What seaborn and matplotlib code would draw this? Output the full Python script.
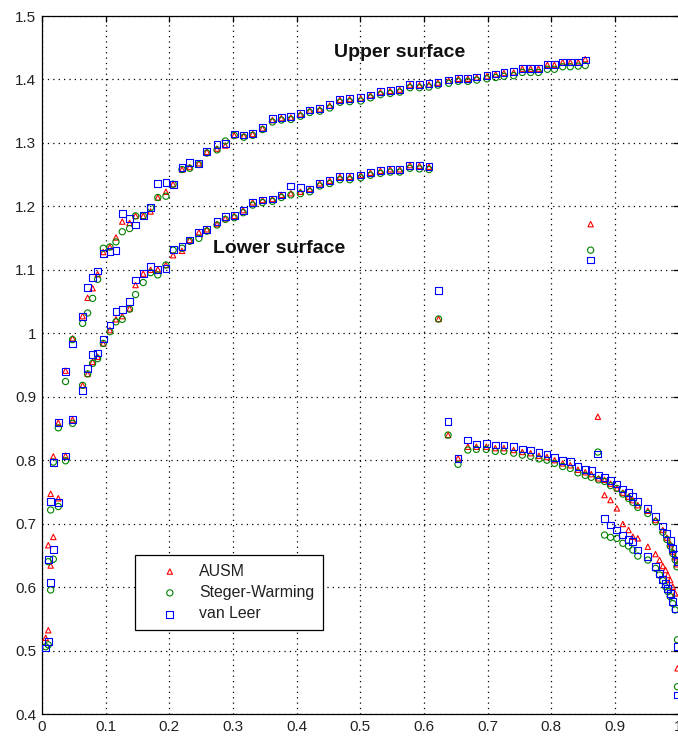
import matplotlib
matplotlib.use("Agg")
import matplotlib.pyplot as plt
import seaborn as sns
import pandas as pd
from matplotlib.ticker import FormatStrFormatter

# ---------------- data ----------------
schemes = ["AUSM", "Steger-Warming", "van Leer"]

# upper surface, ahead of the shock
x_upper = [0.0099, 0.0136, 0.0178, 0.0256, 0.037, 0.048, 0.0638, 0.0717, 0.0795, 0.0874,
           0.0963, 0.1067, 0.1162, 0.1261, 0.1376, 0.147, 0.159, 0.1706, 0.182, 0.1947,
           0.206, 0.220, 0.232, 0.2465, 0.259, 0.275, 0.288, 0.302, 0.317, 0.331,
           0.3465, 0.362, 0.376, 0.391, 0.406, 0.4207, 0.4364, 0.452, 0.468, 0.4835,
           0.5008, 0.516, 0.5317, 0.547, 0.562, 0.578, 0.593, 0.608, 0.622, 0.639,
           0.654, 0.669, 0.683, 0.699, 0.7127, 0.7257, 0.741, 0.7546, 0.7677, 0.780,
           0.794, 0.805, 0.818, 0.830, 0.8425, 0.8535]
ausm_upper = [0.666, 0.747, 0.806, 0.859, 0.941, 0.992, 1.027, 1.056, 1.071, 1.093,
              1.128, 1.136, 1.151, 1.176, 1.174, 1.185, 1.185, 1.192, 1.214, 1.223,
              1.235, 1.258, 1.262, 1.268, 1.286, 1.291, 1.296, 1.312, 1.311, 1.314,
              1.323, 1.336, 1.339, 1.340, 1.345, 1.351, 1.353, 1.359, 1.368, 1.369,
              1.370, 1.375, 1.380, 1.382, 1.384, 1.391, 1.391, 1.392, 1.395, 1.398,
              1.401, 1.401, 1.403, 1.405, 1.408, 1.410, 1.411, 1.417, 1.417, 1.417,
              1.423, 1.423, 1.427, 1.427, 1.427, 1.432]
sw_upper = [0.640, 0.7215, 0.797, 0.851, 0.924, 0.990, 1.0156, 1.032, 1.055, 1.085,
            1.134, 1.136, 1.144, 1.160, 1.165, 1.185, 1.185, 1.198, 1.214, 1.216,
            1.235, 1.258, 1.260, 1.266, 1.284, 1.289, 1.303, 1.312, 1.309, 1.312,
            1.321, 1.333, 1.336, 1.337, 1.342, 1.348, 1.350, 1.355, 1.364, 1.365,
            1.366, 1.371, 1.376, 1.378, 1.380, 1.387, 1.387, 1.388, 1.391, 1.394,
            1.397, 1.397, 1.399, 1.401, 1.403, 1.405, 1.406, 1.411, 1.411, 1.411,
            1.416, 1.416, 1.420, 1.420, 1.421, 1.422]
vl_upper = [0.644, 0.735, 0.796, 0.859, 0.9395, 0.983, 1.026, 1.072, 1.088, 1.098,
            1.126, 1.1285, 1.131, 1.189, 1.181, 1.1706, 1.185, 1.1985, 1.2363, 1.238,
            1.2346, 1.261, 1.269, 1.268, 1.287, 1.298, 1.299, 1.314, 1.3125, 1.315,
            1.3245, 1.338, 1.340, 1.341, 1.3466, 1.352, 1.3545, 1.360, 1.369, 1.370,
            1.371, 1.3755, 1.381, 1.383, 1.3845, 1.392, 1.392, 1.393, 1.3955, 1.399,
            1.402, 1.402, 1.404, 1.406, 1.4086, 1.4107, 1.412, 1.4175, 1.4175, 1.4175,
            1.424, 1.424, 1.4275, 1.4275, 1.4275, 1.4307]

# upper surface, shock and behind it
x_upper_aft = [0.862, 0.8733, 0.8838, 0.8932, 0.9032, 0.9126, 0.9215, 0.9283, 0.9361,
               0.9518, 0.9639, 0.9702, 0.9754, 0.9796, 0.9833, 0.987, 0.991, 0.9947]
ausm_upper_aft = [1.172, 0.8685, 0.745, 0.7372, 0.7241, 0.6994, 0.690, 0.6794, 0.6768,
                  0.6636, 0.652, 0.6426, 0.6332, 0.6269, 0.619, 0.611, 0.6006, 0.590]
sw_upper_aft = [1.131, 0.8128, 0.682, 0.6784, 0.6768, 0.669, 0.6647, 0.6584, 0.6489,
                0.6426, 0.6295, 0.619, 0.6101, 0.6006, 0.593, 0.585, 0.574, 0.564]
vl_upper_aft = [1.1155, 0.8097, 0.7083, 0.6978, 0.690, 0.682, 0.6752, 0.6715, 0.6584,
                0.6478, 0.632, 0.6216, 0.6122, 0.6059, 0.598, 0.590, 0.5769, 0.5665]

# lower surface, ahead of the shock
x_lower = [0.0058, 0.0099, 0.0136, 0.0178, 0.0256, 0.037, 0.048, 0.0638, 0.0717, 0.0795,
           0.0874, 0.0963, 0.1067, 0.1162, 0.1261, 0.1376, 0.147, 0.159, 0.1706, 0.182,
           0.1947, 0.206, 0.220, 0.232, 0.2465, 0.259, 0.275, 0.288, 0.302, 0.316,
           0.331, 0.3465, 0.362, 0.376, 0.391, 0.406, 0.4207, 0.4364, 0.452, 0.468,
           0.4835, 0.5008, 0.516, 0.5317, 0.547, 0.562, 0.578, 0.593, 0.608]
ausm_lower = [0.520, 0.532, 0.634, 0.679, 0.740, 0.807, 0.864, 0.918, 0.936, 0.955,
              0.963, 0.984, 1.005, 1.022, 1.027, 1.039, 1.076, 1.094, 1.100, 1.1006,
              1.1076, 1.123, 1.130, 1.147, 1.159, 1.1638, 1.172, 1.181, 1.185, 1.194,
              1.2063, 1.210, 1.2116, 1.218, 1.2206, 1.223, 1.2273, 1.2363, 1.2404, 1.2467,
              1.2467, 1.2494, 1.253, 1.256, 1.2584, 1.2584, 1.265, 1.264, 1.2625]
sw_lower = [0.506, 0.509, 0.5955, 0.644, 0.727, 0.799, 0.858, 0.918, 0.936, 0.9526,
            0.960, 0.984, 1.0025, 1.018, 1.022, 1.038, 1.061, 1.080, 1.0955, 1.092,
            1.1076, 1.131, 1.134, 1.145, 1.1496, 1.161, 1.1706, 1.1795, 1.182, 1.190,
            1.202, 1.206, 1.208, 1.214, 1.218, 1.220, 1.223, 1.232, 1.236, 1.242,
            1.242, 1.245, 1.249, 1.252, 1.254, 1.254, 1.260, 1.259, 1.258]
vl_lower = [0.504, 0.514, 0.607, 0.659, 0.733, 0.8065, 0.8643, 0.9095, 0.945, 0.966,
            0.969, 0.991, 1.013, 1.034, 1.038, 1.050, 1.084, 1.094, 1.105, 1.1006,
            1.102, 1.132, 1.1365, 1.147, 1.159, 1.1638, 1.1758, 1.1837, 1.185, 1.194,
            1.2063, 1.210, 1.2116, 1.218, 1.232, 1.2295, 1.2273, 1.2363, 1.2404, 1.2467,
            1.2467, 1.2494, 1.253, 1.256, 1.2584, 1.2584, 1.265, 1.264, 1.2625]

# lower surface, shock and behind it
x_lower_aft = [0.623, 0.638, 0.6536, 0.669, 0.6824, 0.698, 0.7122, 0.7257, 0.741, 0.7546,
               0.7677, 0.7807, 0.7933, 0.8053, 0.818, 0.830, 0.842, 0.8535, 0.863, 0.8744,
               0.8838, 0.8932, 0.9032, 0.9126, 0.9215, 0.9283, 0.9361, 0.9518, 0.9639,
               0.9754, 0.9817, 0.987, 0.991, 0.9947, 0.9975]
ausm_lower_aft = [1.0225, 0.8396, 0.803, 0.8212, 0.8212, 0.8212, 0.819, 0.819, 0.816, 0.813,
                  0.811, 0.807, 0.805, 0.800, 0.795, 0.792, 0.785, 0.781, 0.778, 0.7714,
                  0.769, 0.763, 0.7556, 0.7488, 0.7424, 0.737, 0.729, 0.7203, 0.7057,
                  0.690, 0.678, 0.6675, 0.656, 0.647, 0.636]
sw_lower_aft = [1.0225, 0.8396, 0.7935, 0.816, 0.817, 0.817, 0.814, 0.814, 0.811, 0.808,
                0.806, 0.802, 0.800, 0.795, 0.790, 0.787, 0.780, 0.776, 0.773, 0.769,
                0.7665, 0.760, 0.7556, 0.7466, 0.7398, 0.7335, 0.7256, 0.716, 0.703,
                0.6865, 0.675, 0.6645, 0.653, 0.643, 0.632]
vl_lower_aft = [1.068, 0.8606, 0.803, 0.8318, 0.8255, 0.8265, 0.824, 0.824, 0.821, 0.8176,
                0.816, 0.8118, 0.8097, 0.8045, 0.800, 0.7975, 0.7897, 0.7856, 0.7834, 0.7766,
                0.773, 0.7676, 0.7624, 0.7545, 0.7487, 0.7424, 0.7345, 0.7241, 0.711,
                0.6962, 0.6847, 0.673, 0.661, 0.652, 0.640]

# trailing-edge points
x_te_ausm = [0.9985]
ausm_te = [0.472]
x_te_sw = [0.9985, 0.9985]
sw_te = [0.517, 0.443]
x_te_vl = [0.9985, 0.9985]
vl_te = [0.506, 0.430]

xticks = [0, 0.1, 0.2, 0.3, 0.4, 0.5, 0.6, 0.7, 0.8, 0.9, 1]
yticks = [0.4, 0.5, 0.6, 0.7, 0.8, 0.9, 1.0, 1.1, 1.2, 1.3, 1.4, 1.5]

# ---------------- assemble ----------------
frames = []
for name, ys, xte, yte in [
    ("AUSM", (ausm_upper, ausm_upper_aft, ausm_lower, ausm_lower_aft), x_te_ausm, ausm_te),
    ("Steger-Warming", (sw_upper, sw_upper_aft, sw_lower, sw_lower_aft), x_te_sw, sw_te),
    ("van Leer", (vl_upper, vl_upper_aft, vl_lower, vl_lower_aft), x_te_vl, vl_te),
]:
    xs = x_upper + x_upper_aft + x_lower + x_lower_aft + xte
    yv = ys[0] + ys[1] + ys[2] + ys[3] + yte
    frames.append(pd.DataFrame({"x": xs, "y": yv, "scheme": name}))
df = pd.concat(frames, ignore_index=True)

sns.set_style("white")
plt.rcParams["font.family"] = ["Liberation Sans", "DejaVu Sans"]

fig = plt.figure(figsize=(6.78, 7.37), dpi=100)
W, H = 678, 737
ax = fig.add_axes([42 / W, 23 / H, 636.5 / W, 698 / H])

styles = {
    "AUSM": dict(marker="^", s=15, color="#ff0000"),
    "Steger-Warming": dict(marker="o", s=20, color="#008000"),
    "van Leer": dict(marker="s", s=24, color="#0000ff"),
}
for name in schemes:
    st = styles[name]
    sub = df[df["scheme"] == name]
    sns.scatterplot(data=sub, x="x", y="y", marker=st["marker"], s=st["s"],
                    color=st["color"], facecolors="none", edgecolor=st["color"],
                    linewidth=0.8, ax=ax, label=name, legend=False, zorder=3)

ax.set_xlim(0, 1)
ax.set_ylim(0.4, 1.5)
ax.set_xticks(xticks)
ax.set_yticks(yticks)
ax.xaxis.set_major_formatter(FormatStrFormatter("%g"))
ax.yaxis.set_major_formatter(FormatStrFormatter("%g"))
ax.set_xlabel("")
ax.set_ylabel("")
ax.grid(True, color="black", linestyle=(0, (1, 3.3)), linewidth=0.9)
ax.tick_params(direction="in", top=True, right=True, length=4, width=0.9,
               labelsize=11, labelcolor="#222222", pad=4, color="black")
for sp in ax.spines.values():
    sp.set_color("black")
    sp.set_linewidth(0.9)

ax.text(0.458, 1.443, "Upper surface", fontsize=14, fontweight="bold",
        va="center", ha="left", color="#111111")
ax.text(0.268, 1.133, "Lower surface", fontsize=14, fontweight="bold",
        va="center", ha="left", color="#111111")

leg = ax.legend(loc="upper left", bbox_to_anchor=(93 / 636.5, (714 - 555) / 698),
                fancybox=False, edgecolor="black", framealpha=1, fontsize=11.4,
                borderpad=0.55, handlelength=3.3, handletextpad=0.2,
                labelspacing=0.4, borderaxespad=0)
leg.get_frame().set_linewidth(0.9)
for t in leg.get_texts():
    t.set_color("#222222")

fig.savefig("out.png", dpi=100)
